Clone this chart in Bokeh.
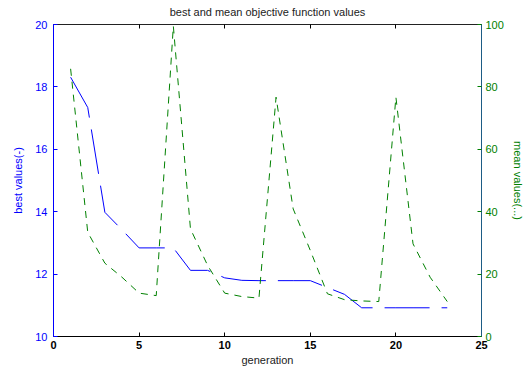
from bokeh.plotting import figure
from bokeh.models import LinearAxis, Range1d, FixedTicker, CustomJSTickFormatter
from bokeh.embed import file_html
from bokeh.resources import INLINE

generation = list(range(1, 24))
best_values = [18.31, 17.34, 13.98, 13.42, 12.84, 12.84, 12.84, 12.12, 12.12, 11.88,
               11.80, 11.79, 11.79, 11.79, 11.79, 11.57, 11.35, 10.92, 10.92, 10.92,
               10.92, 10.92, 10.92]
mean_values = [85.8, 33.4, 23.5, 19.0, 13.9, 13.1, 99.5, 34.5, 22.8, 13.9,
               12.8, 12.3, 76.7, 40.9, 27.6, 13.7, 11.8, 11.4, 11.2, 76.7,
               29.7, 19.0, 11.2]
x_ticks = [0, 5, 10, 15, 20, 25]
best_ticks = [10, 12, 14, 16, 18, 20]
mean_ticks = [0, 20, 40, 60, 80, 100]

FONT = "Liberation Sans"
BLUE = "#0000ff"
GREEN = "#008000"
TEAL = "#1d5c85"

p = figure(width=527, height=372, x_range=Range1d(0, 25), y_range=Range1d(10, 20),
           output_backend="svg", toolbar_location=None,
           min_border_left=53, min_border_right=46, min_border_top=24, min_border_bottom=36)
p.title.text = "best and mean objective function values"
p.title.align = "center"
p.title.vertical_align = "top"
p.title.text_font = FONT
p.title.text_font_size = "11px"
p.title.text_font_style = "normal"
p.title.text_color = "#222222"
p.title.standoff = 10
p.outline_line_color = None
p.xgrid.visible = False
p.ygrid.visible = False
p.background_fill_color = "white"
p.border_fill_color = "white"

p.extra_y_ranges = {"mean": Range1d(0, 100)}

# bottom axis
xa = p.xaxis[0]
xa.ticker = FixedTicker(ticks=x_ticks)
xa.major_tick_in = 4
xa.major_tick_out = 0
xa.minor_tick_line_color = None
xa.axis_line_color = "black"
xa.major_tick_line_color = "black"
xa.major_label_text_font = FONT
xa.major_label_text_font_size = "11px"
xa.major_label_text_font_style = "bold"
xa.major_label_text_color = "black"
xa.major_label_standoff = 4
xa.axis_label = "generation"
xa.axis_label_text_font = FONT
xa.axis_label_text_font_size = "11px"
xa.axis_label_text_font_style = "normal"
xa.axis_label_text_color = "#222222"
xa.axis_label_standoff = 2

# left axis
ya = p.yaxis[0]
ya.ticker = FixedTicker(ticks=best_ticks)
ya.major_tick_in = 4
ya.major_tick_out = 0
ya.minor_tick_line_color = None
ya.axis_line_color = BLUE
ya.major_tick_line_color = BLUE
ya.major_label_text_font = FONT
ya.major_label_text_font_size = "11px"
ya.major_label_text_color = BLUE
ya.major_label_standoff = 6
ya.axis_label = "best values(-)"
ya.axis_label_text_font = FONT
ya.axis_label_text_font_size = "11px"
ya.axis_label_text_font_style = "normal"
ya.axis_label_text_color = BLUE
ya.axis_label_standoff = 8

# top axis (ticks only)
top = LinearAxis(ticker=FixedTicker(ticks=x_ticks), major_tick_in=4, major_tick_out=0,
                 minor_tick_line_color=None, axis_line_color="#222222",
                 major_tick_line_color="black",
                 formatter=CustomJSTickFormatter(code="return ''"),
                 major_label_standoff=0)
p.add_layout(top, "above")

# right axis
ra = LinearAxis(y_range_name="mean", ticker=FixedTicker(ticks=mean_ticks),
                major_tick_in=4, major_tick_out=0, minor_tick_line_color=None,
                axis_line_color=TEAL, major_tick_line_color=GREEN,
                major_label_text_font=FONT, major_label_text_font_size="11px",
                major_label_text_color=GREEN, major_label_standoff=4,
                axis_label="mean values(...)", axis_label_text_font=FONT,
                axis_label_text_font_size="11px", axis_label_text_font_style="normal",
                axis_label_text_color=GREEN, axis_label_standoff=5)
p.add_layout(ra, "right")

p.line(generation, best_values, line_color=BLUE, line_width=1, line_dash="45 12")
p.line(generation, mean_values, y_range_name="mean", line_color=GREEN, line_width=1,
       line_dash="7 6")

open("out.html", "w").write(file_html(p, INLINE))
